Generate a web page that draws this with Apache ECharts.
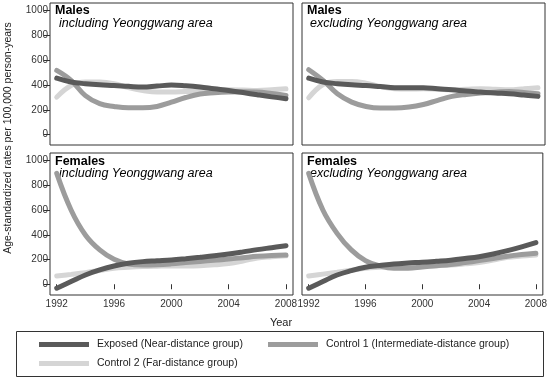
<!DOCTYPE html>
<html><head><meta charset="utf-8">
<script src="https://cdn.jsdelivr.net/npm/echarts@6/dist/echarts.min.js"></script>
<style>html,body{margin:0;padding:0;background:#fff}#c{width:550px;height:380px}</style>
</head><body><div id="c"></div>
<script>
const years = [1992,1993,1994,1995,1996,1997,1998,1999,2000,2001,2002,2003,2004,2005,2006,2007,2008];
const xTicks = [1992,1996,2000,2004,2008];
const yTicks = [0,200,400,600,800,1000];
const seriesNames = ['Exposed (Near-distance group)','Control 1 (Intermediate-distance group)','Control 2 (Far-distance group)'];
const panelTitles = ['Males','Males','Females','Females'];
const panelSubtitles = ['including Yeonggwang area','excluding Yeonggwang area','including Yeonggwang area','excluding Yeonggwang area'];

// Males, including Yeonggwang area
const mIncExposed = [456,425,411,402,397,390,384,392,400,394,384,370,357,340,322,305,290];
const mIncControl1 = [518,438,315,250,228,217,217,228,262,300,328,338,344,346,344,332,317];
const mIncControl2 = [303,397,424,424,411,380,357,344,344,348,352,358,362,360,357,362,370];
// Males, excluding Yeonggwang area
const mExcExposed = [456,425,411,402,397,388,379,379,379,370,362,352,344,336,330,320,309];
const mExcControl1 = [524,438,330,263,228,215,215,223,244,277,309,325,336,343,349,340,330];
const mExcControl2 = [298,405,430,430,416,389,370,368,370,366,362,366,370,366,362,370,379];
// Females, including Yeonggwang area
const fIncExposed = [-32,22,75,116,148,170,183,190,197,207,218,230,245,262,280,296,312];
const fIncControl1 = [897,601,399,278,202,164,156,158,165,175,185,194,204,215,226,233,237];
const fIncControl2 = [67,80,94,111,129,137,143,146,148,148,150,157,168,188,212,222,230];
// Females, excluding Yeonggwang area
const fExcExposed = [-32,22,75,110,137,151,164,172,178,186,195,208,223,245,272,303,337];
const fExcControl1 = [897,601,412,278,191,148,129,130,140,150,160,175,191,208,226,240,251];
const fExcControl2 = [67,82,97,113,129,137,143,145,145,150,156,165,175,195,218,228,237];

const panels = [
  [mIncExposed, mIncControl1, mIncControl2],
  [mExcExposed, mExcControl1, mExcControl2],
  [fIncExposed, fIncControl1, fIncControl2],
  [fExcExposed, fExcControl1, fExcControl2]
];
const colors = ['#5a5a5a','#9c9c9c','#d5d5d5'];
const gridPos = [
  {left:50, top:3, width:243, height:142},
  {left:302, top:3, width:243, height:142},
  {left:50, top:153, width:243, height:142},
  {left:302, top:153, width:243, height:142}
];
const FONT = 'Liberation Sans, Arial, sans-serif';
const plain = v => String(v);

const grids = gridPos.map(g => Object.assign({show:true, borderColor:'#333', borderWidth:1, backgroundColor:'#fff'}, g));
const xAxes = gridPos.map((g,i) => {
  const bottom = i >= 2;
  return {
    gridIndex:i, type:'value', min:1991.53, max:2008.49,
    splitLine:{show:false}, axisLine:{show:false},
    axisTick:{show:bottom, customValues:xTicks, length:5, lineStyle:{color:'#333'}},
    axisLabel:{show:bottom, customValues:xTicks, formatter:plain, fontSize:10, color:'#333', margin:4, fontFamily:FONT}
  };
});
const yAxes = gridPos.map((g,i) => {
  const left = i % 2 === 0;
  return {
    gridIndex:i, type:'value', min:(i<2?-83:-87), max:1062,
    splitLine:{show:false}, axisLine:{show:false},
    axisTick:{show:left, customValues:yTicks, length:6, lineStyle:{color:'#333'}},
    axisLabel:{show:left, customValues:yTicks, formatter:plain, fontSize:10, color:'#333', margin:2, fontFamily:FONT}
  };
});
const series = [];
panels.forEach((arrs, i) => {
  // draw order: Control 2, Control 1, Exposed on top
  [2,1,0].forEach(k => {
    series.push({
      type:'line', name:seriesNames[k], xAxisIndex:i, yAxisIndex:i,
      data: years.map((y,j) => [y, arrs[k][j]]),
      smooth:0.4, showSymbol:false, symbol:'none',
      lineStyle:{color:colors[k], width:5, cap:'round'},
      itemStyle:{color:colors[k]},
      z: 3 - k
    });
  });
});

const graphics = [];
const titlePos = [
  {tx:55, ty:11, sx:59, sy:24},
  {tx:307, ty:11, sx:310, sy:24},
  {tx:55, ty:161.5, sx:59, sy:173.5},
  {tx:307, ty:161.5, sx:310, sy:173.5}
];
titlePos.forEach((p,i) => {
  graphics.push({type:'text', x:p.tx, y:p.ty, style:{text:panelTitles[i], fill:'#000', font:'bold 12.5px '+FONT, verticalAlign:'middle'}});
  graphics.push({type:'text', x:p.sx, y:p.sy, style:{text:panelSubtitles[i], fill:'#000', font:'italic 12.5px '+FONT, verticalAlign:'middle'}});
});
graphics.push({type:'text', x:8, y:138, rotation:Math.PI/2, style:{text:'Age-standardized rates per 100,000 person-years', fill:'#222', font:'10.5px '+FONT, align:'center', verticalAlign:'middle'}});
graphics.push({type:'text', x:281, y:323, style:{text:'Year', fill:'#222', font:'11px '+FONT, align:'center', verticalAlign:'middle'}});
graphics.push({type:'rect', shape:{x:16.5, y:331.5, width:527, height:45}, style:{fill:'none', stroke:'#333', lineWidth:1}, z:-1});

const legendBase = {itemWidth:50, itemHeight:5, icon:'rect', textStyle:{fontSize:10.5, color:'#222', fontFamily:FONT, padding:[0,0,0,3]}, selectedMode:false, padding:0};
const chart = echarts.init(document.getElementById('c'));
chart.setOption({
  animation:false,
  backgroundColor:'#fff',
  grid:grids, xAxis:xAxes, yAxis:yAxes, series:series,
  legend:[
    Object.assign({}, legendBase, {left:39, top:339, data:[seriesNames[0]]}),
    Object.assign({}, legendBase, {left:268, top:339, data:[seriesNames[1]]}),
    Object.assign({}, legendBase, {left:39, top:358, data:[seriesNames[2]]})
  ],
  graphic:graphics
});
</script></body></html>
